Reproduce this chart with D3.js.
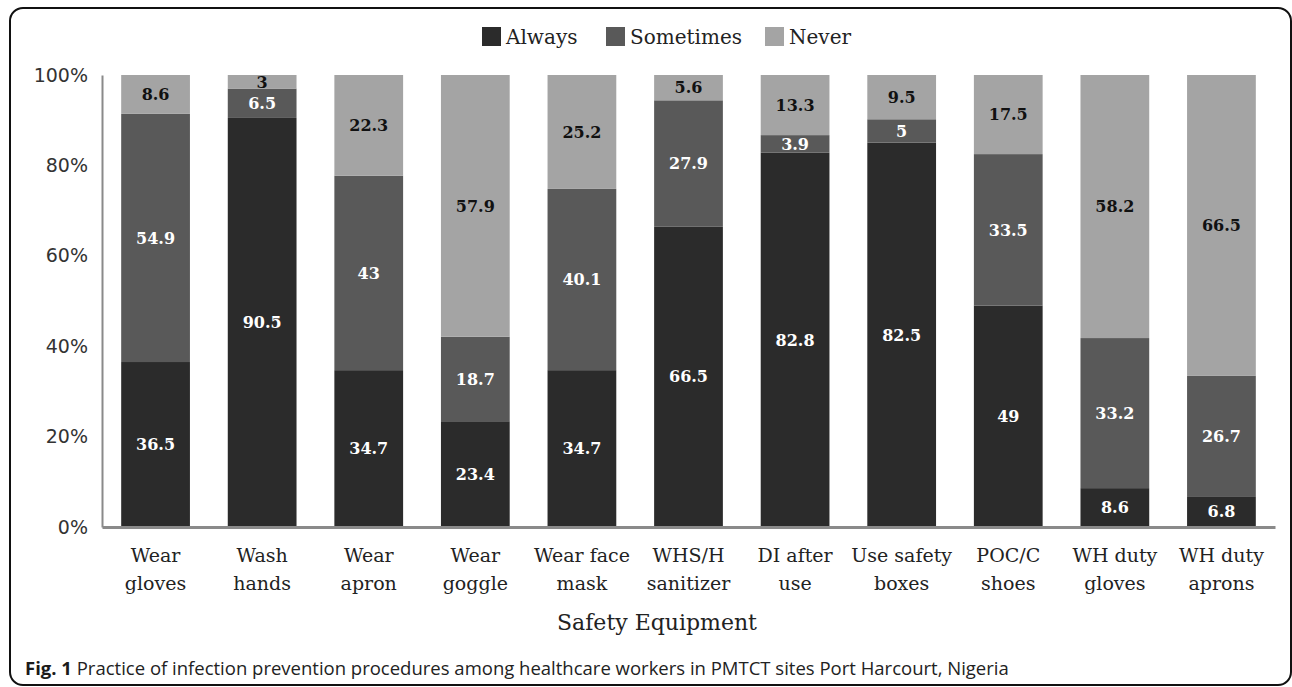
<!DOCTYPE html>
<html>
<head>
<meta charset="utf-8">
<script src="https://cdn.jsdelivr.net/npm/d3@7"></script>
<style>
  body { margin: 0; background: #fff; }
  svg { display: block; }
</style>
</head>
<body>
<div class="chart"></div>
<script>
// Data
var categories = ["Wear|gloves", "Wash|hands", "Wear|apron", "Wear|goggle", "Wear face|mask",
  "WHS/H|sanitizer", "DI after|use", "Use safety|boxes", "POC/C|shoes", "WH duty|gloves", "WH duty|aprons"];
var seriesNames = ["Always", "Sometimes", "Never"];
var always = [36.5, 90.5, 34.7, 23.4, 34.7, 66.5, 82.8, 82.5, 49, 8.6, 6.8];
var sometimes = [54.9, 6.5, 43, 18.7, 40.1, 27.9, 3.9, 5, 33.5, 33.2, 26.7];
var never = [8.6, 3, 22.3, 57.9, 25.2, 5.6, 13.3, 9.5, 17.5, 58.2, 66.5];
var yTicks = [0, 0.2, 0.4, 0.6, 0.8, 1];

var colors = { Always: "#2b2b2b", Sometimes: "#595959", Never: "#a4a4a4" };
var labelColors = { Always: "#fff", Sometimes: "#fff", Never: "#111" };

var svgWidth = 1292;
var svgHeight = 687;
var margin = { top: 75, right: 17, bottom: 160, left: 102 };
var width = svgWidth - margin.left - margin.right;
var height = svgHeight - margin.top - margin.bottom;

var svg = d3.select(".chart")
  .append("svg")
  .attr("width", svgWidth)
  .attr("height", svgHeight);

// Rounded frame
svg.append("rect")
  .attr("x", 10)
  .attr("y", 8)
  .attr("width", 1281)
  .attr("height", 677)
  .attr("rx", 13)
  .attr("fill", "none")
  .attr("stroke", "#111")
  .attr("stroke-width", 2);

var chart = svg.append("g")
  .attr("transform", "translate(" + margin.left + "," + margin.top + ")");

// Build table for stack (percent stacked, so rows are normalised)
var table = categories.map(function(c, i) {
  return { cat: c, Always: always[i], Sometimes: sometimes[i], Never: never[i] };
});

var stack = d3.stack()
  .keys(seriesNames)
  .offset(d3.stackOffsetExpand);
var layers = stack(table);

var xScale = d3.scaleBand()
  .domain(categories)
  .range([0, width])
  .paddingInner(0.355)
  .paddingOuter(0.18);
var yScale = d3.scaleLinear()
  .domain([0, 1])
  .range([height, 0]);

// Bars
var layer = chart.selectAll(".layer")
  .data(layers)
  .enter().append("g")
  .attr("class", "layer")
  .attr("fill", function(d) { return colors[d.key]; });

layer.selectAll("rect")
  .data(function(d) { return d; })
  .enter().append("rect")
  .attr("x", function(d) { return xScale(d.data.cat); })
  .attr("y", function(d) { return yScale(d[1]); })
  .attr("width", xScale.bandwidth())
  .attr("height", function(d) { return yScale(d[0]) - yScale(d[1]); });

// Value labels
layers.forEach(function(l) {
  chart.append("g")
    .selectAll("text")
    .data(l)
    .enter().append("text")
    .attr("x", function(d) { return xScale(d.data.cat) + xScale.bandwidth() / 2; })
    .attr("y", function(d) { return yScale((d[0] + d[1]) / 2); })
    .attr("dy", "0.36em")
    .attr("text-anchor", "middle")
    .attr("font-family", "DejaVu Serif")
    .attr("font-weight", "bold")
    .attr("font-size", "16px")
    .attr("fill", labelColors[l.key])
    .text(function(d) { return d.data[l.key]; });
});

// Y axis
var leftAxis = d3.axisLeft(yScale)
  .tickValues(yTicks)
  .tickSize(0)
  .tickPadding(14)
  .tickFormat(d3.format(".0%"));
var yAxis = chart.append("g").call(leftAxis);
yAxis.select(".domain").attr("stroke", "#8a8a8a").attr("stroke-width", 2);
yAxis.selectAll("text")
  .attr("font-family", "DejaVu Sans")
  .attr("font-size", "19px")
  .attr("fill", "#333");

// X axis
var bottomAxis = d3.axisBottom(xScale).tickSize(0).tickSizeOuter(0).tickPadding(0);
var xAxis = chart.append("g")
  .attr("transform", "translate(0," + height + ")")
  .call(bottomAxis);
xAxis.select(".domain").attr("stroke", "#8a8a8a").attr("stroke-width", 3);
xAxis.selectAll(".tick text").each(function(d) {
  var t = d3.select(this);
  var parts = d.split("|");
  t.text(null)
    .attr("y", null)
    .attr("dy", null)
    .attr("font-family", "DejaVu Serif")
    .attr("font-size", "19px")
    .attr("fill", "#222");
  parts.forEach(function(p, i) {
    t.append("tspan")
      .attr("x", 0)
      .attr("y", 35 + i * 28)
      .text(p);
  });
});

// Axis title
chart.append("text")
  .attr("x", 555)
  .attr("y", height + 103)
  .attr("text-anchor", "middle")
  .attr("font-family", "DejaVu Serif")
  .attr("font-size", "22px")
  .attr("fill", "#222")
  .text("Safety Equipment");

// Legend
var legendX = [482, 606, 765];
var legend = svg.append("g");
seriesNames.forEach(function(s, i) {
  legend.append("rect")
    .attr("x", legendX[i])
    .attr("y", 27)
    .attr("width", 19)
    .attr("height", 19)
    .attr("fill", colors[s]);
  legend.append("text")
    .attr("x", legendX[i] + 24)
    .attr("y", 44)
    .attr("font-family", "DejaVu Serif")
    .attr("font-size", "20px")
    .attr("fill", "#222")
    .text(s);
});

// Caption
var caption = svg.append("text")
  .attr("x", 25)
  .attr("y", 675)
  .attr("font-family", "Open Sans")
  .attr("font-size", "18.5px")
  .attr("fill", "#222");
caption.append("tspan").attr("font-weight", "bold").attr("fill", "#1b1b1b").text("Fig. 1");
caption.append("tspan").text(" Practice of infection prevention procedures among healthcare workers in PMTCT sites Port Harcourt, Nigeria");
</script>
</body>
</html>
